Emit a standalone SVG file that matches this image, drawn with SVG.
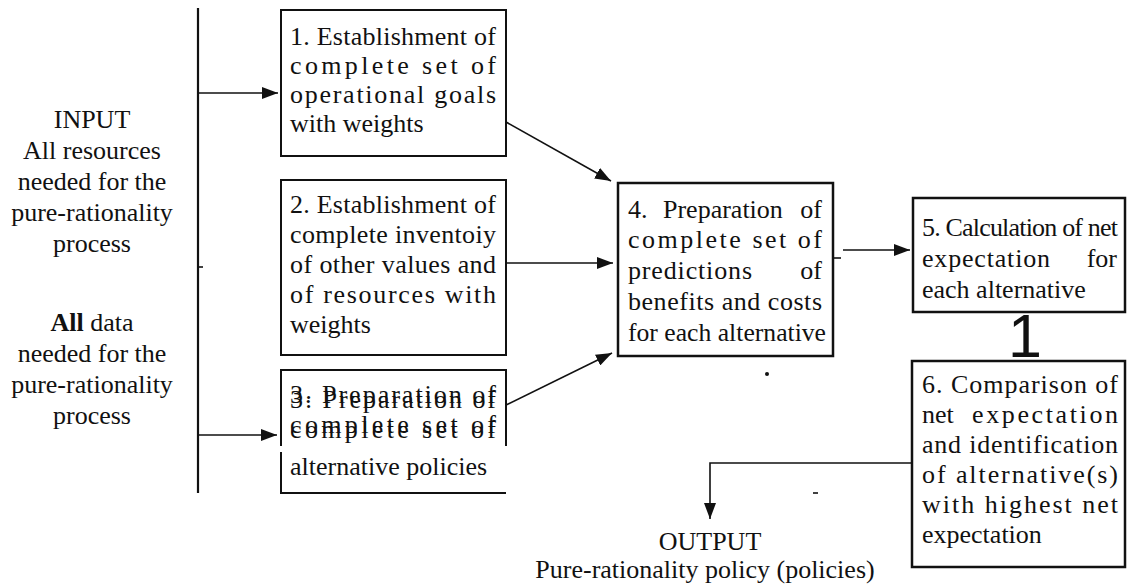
<svg xmlns="http://www.w3.org/2000/svg" width="1127" height="588" viewBox="0 0 1127 588">
<style>
.t{font-family:"Liberation Serif","Times New Roman",serif;font-size:26px;fill:#111}
.c{text-anchor:middle}
.e{text-anchor:end}
.box{fill:#fff;stroke:#111;stroke-width:2}
.bx2{fill:#fff;stroke:#111;stroke-width:2.5}
.ln{fill:none;stroke:#111;stroke-width:1.6}
.vl{fill:none;stroke:#111;stroke-width:2.2}
</style>
<defs>
<marker id="ah" markerUnits="userSpaceOnUse" viewBox="0 0 16 12" refX="16" refY="6" markerWidth="16" markerHeight="12" orient="auto">
<path d="M0,0 L16,6 L0,12 z" fill="#111"/>
</marker>
<clipPath id="clip3"><rect x="282" y="371" width="223" height="75"/></clipPath>
</defs>
<rect width="1127" height="588" fill="#fff"/>

<g id="input-label">
<text class="t c" x="92" y="128">INPUT</text>
<text class="t c" x="92" y="159">All resources</text>
<text class="t c" x="92" y="190">needed for the</text>
<text class="t c" x="92" y="221">pure-rationality</text>
<text class="t c" x="92" y="252">process</text>
<text class="t c" x="92" y="331"><tspan font-weight="bold">All</tspan> data</text>
<text class="t c" x="92" y="362">needed for the</text>
<text class="t c" x="92" y="393">pure-rationality</text>
<text class="t c" x="92" y="424">process</text>
</g>

<g id="node1">
<rect class="box" x="281" y="10" width="225" height="146"/>
<text class="t" x="290" y="45" textLength="206" lengthAdjust="spacing">1. Establishment of</text>
<text class="t" x="290" y="74" textLength="206" lengthAdjust="spacing">complete set of</text>
<text class="t" x="290" y="103" textLength="206" lengthAdjust="spacing">operational goals</text>
<text class="t" x="290" y="132">with weights</text>
</g>

<g id="node2">
<rect class="box" x="281" y="180" width="225" height="175"/>
<text class="t" x="290" y="213" textLength="206" lengthAdjust="spacing">2. Establishment of</text>
<text class="t" x="290" y="243" textLength="206" lengthAdjust="spacing">complete inventoiy</text>
<text class="t" x="290" y="273" textLength="206" lengthAdjust="spacing">of other values and</text>
<text class="t" x="290" y="303" textLength="206" lengthAdjust="spacing">of resources with</text>
<text class="t" x="290" y="333">weights</text>
</g>

<g id="node3">
<rect x="281" y="370" width="225" height="123" fill="#fff"/>
<path class="box" d="M281,446 V370 H506 V446" fill="none"/>
<path class="box" d="M281,452 V493 H506" fill="none"/>
<g clip-path="url(#clip3)">
<text class="t" x="290" y="403" textLength="206" lengthAdjust="spacing">3. Preparation of</text>
<text class="t" x="290" y="408" textLength="206" lengthAdjust="spacing">3: Preparation of</text>
<text class="t" x="290" y="433" textLength="206" lengthAdjust="spacing">complete set of</text>
<text class="t" x="290" y="438" textLength="206" lengthAdjust="spacing">complete set of</text>
</g>
<text class="t" x="290" y="475">alternative policies</text>
</g>

<g id="node4">
<rect class="bx2" x="618" y="183" width="215" height="173"/>
<text class="t" x="628" y="218">4.</text>
<text class="t" x="663" y="218">Preparation</text>
<text class="t e" x="822" y="218">of</text>
<text class="t" x="628" y="248" textLength="194" lengthAdjust="spacing">complete set of</text>
<text class="t" x="628" y="279" textLength="124" lengthAdjust="spacing">predictions</text>
<text class="t e" x="822" y="279">of</text>
<text class="t" x="628" y="310" textLength="194" lengthAdjust="spacing">benefits and costs</text>
<text class="t" x="628" y="341" textLength="198" lengthAdjust="spacingAndGlyphs">for each alternative</text>
</g>

<g id="node5">
<rect class="bx2" x="913" y="198" width="212" height="114"/>
<text class="t" x="922" y="236" font-size="22.5" textLength="196" lengthAdjust="spacing">5. Calculation of net</text>
<text class="t" x="922" y="267" textLength="128" lengthAdjust="spacing">expectation</text>
<text class="t e" x="1117" y="267">for</text>
<text class="t" x="922" y="298">each alternative</text>
</g>

<g id="node6">
<rect class="bx2" x="912" y="361" width="213" height="206"/>
<text class="t" x="922" y="393" textLength="196" lengthAdjust="spacing">6. Comparison of</text>
<text class="t" x="922" y="423">net</text>
<text class="t" x="972" y="423" textLength="146" lengthAdjust="spacing">expectation</text>
<text class="t" x="922" y="453" textLength="196" lengthAdjust="spacing">and identification</text>
<text class="t" x="922" y="483" textLength="196" lengthAdjust="spacing">of alternative(s)</text>
<text class="t" x="922" y="513" textLength="196" lengthAdjust="spacing">with highest net</text>
<text class="t" x="922" y="543">expectation</text>
</g>

<g id="output-label">
<text class="t c" x="710" y="550">OUTPUT</text>
<text class="t c" x="705" y="578" font-size="25">Pure-rationality policy (policies)</text>
</g>

<g id="connectors">
<path class="vl" d="M198,8 V493"/>
<path class="ln" d="M198,93 H278" marker-end="url(#ah)"/>
<path class="ln" d="M198,435 H277" marker-end="url(#ah)"/>
<path class="ln" d="M506,122 L611,181" marker-end="url(#ah)"/>
<path class="ln" d="M506,263 H613" marker-end="url(#ah)"/>
<path class="ln" d="M506,405 L612,353" marker-end="url(#ah)"/>
<path class="ln" d="M843,250 H910" marker-end="url(#ah)"/>
<path class="ln" d="M912,463 H710 V519" marker-end="url(#ah)"/>
<text x="1025" y="357" font-family="Liberation Sans, Arial, sans-serif" font-size="61" text-anchor="middle" fill="#111">1</text>
<path class="ln" d="M834,258 H841"/>
<path class="ln" d="M198,267 H203"/>
<path class="ln" d="M813,493 H818"/>
<circle cx="767" cy="374" r="2" fill="#111"/>
</g>
</svg>
